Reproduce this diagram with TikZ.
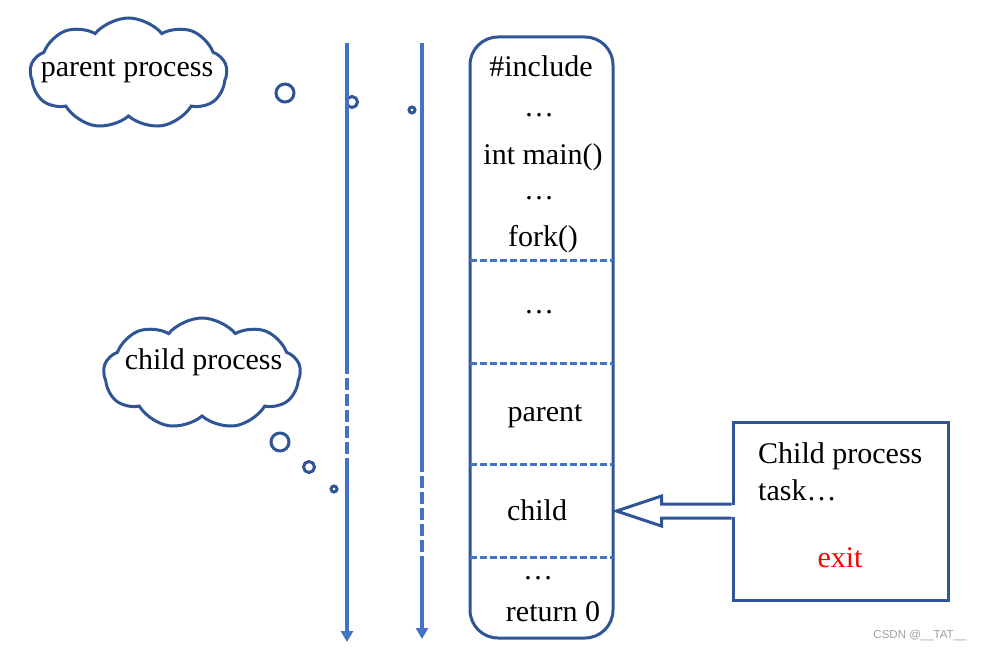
\documentclass[tikz,border=0pt]{standalone}
\usepackage{fontspec}
\setmainfont{Liberation Serif}
\newfontfamily\markfont{Liberation Sans}
\usepackage{xcolor}
\usepackage{tikz}
\usetikzlibrary{arrows.meta}
\usetikzlibrary{shapes.symbols}

\definecolor{lineblue}{HTML}{4472C4}
\definecolor{edgeblue}{HTML}{2F5597}

\begin{document}
\begin{tikzpicture}[x = 1pt, y = -1pt,
    every node/.style = {font = \fontsize{30}{37}\selectfont, inner sep = 0},
    timeline/.style = {lineblue, line width = 4pt},
    forkline/.style = {timeline, dash pattern = on 12pt off 4pt},
    bubble/.style = {edgeblue, line width = 3pt},
    thought/.style = {cloud, cloud puffs = 9, cloud puff arc = 100,
        cloud ignores aspect, draw = edgeblue, line width = 3pt,
        minimum width = 197pt, minimum height = 111pt},
    divider/.style = {lineblue, line width = 3pt, dash pattern = on 7pt off 3pt}]
    \useasboundingbox (0, 0) rectangle (984, 650);

    %% clouds
    \node[thought] (pcloud) at (128.5, 73.5) {};
    \node (ptext) at (127, 71) {parent process};
    \draw[bubble] (285, 93) circle (9pt);
    \draw[bubble] (352, 102) circle (5.5pt);
    \draw[bubble] (412, 110) circle (3pt);

    \node[thought] (ccloud) at (202, 373.5) {};
    \node (ctext) at (203.5, 362.5) {child process};
    \draw[bubble] (280, 442) circle (9pt);
    \draw[bubble] (309, 467) circle (5.5pt);
    \draw[bubble] (334, 489) circle (3pt);

    %% time lines
    \coordinate (ptop) at (347, 43);
    \coordinate (pdash) at (347, 362);
    \coordinate (pback) at (347, 468);
    \coordinate (pend) at (347, 642);
    \draw[timeline] (ptop) -- (pdash);
    \draw[forkline] (pdash) -- (pback);
    \draw[timeline, -{Triangle[width = 12pt, length = 11pt]}] (pback) -- (pend);

    \coordinate (ctop) at (422, 43);
    \coordinate (cdash) at (422, 460);
    \coordinate (cback) at (422, 557);
    \coordinate (cend) at (422, 639);
    \draw[timeline] (ctop) -- (cdash);
    \draw[forkline] (cdash) -- (cback);
    \draw[timeline, -{Triangle[width = 12pt, length = 11pt]}] (cback) -- (cend);

    %% program
    \node[draw = edgeblue, line width = 3pt, rounded corners = 28pt,
        minimum width = 143pt, minimum height = 601pt] (code) at (541.5, 337.5) {};
    \foreach \y in {260, 363, 464, 557}
        \draw[divider] (470, \y) -- (613, \y);

    \node (incl) at (541, 66) {\#include};
    \node (dotsa) at (539, 115) {…};
    \node (main) at (543, 157) {int main()};
    \node (dotsb) at (539, 198) {…};
    \node (fork) at (543, 239) {fork()};
    \node (dotsc) at (539, 312) {…};
    \node (parent) at (545, 416) {parent};
    \node (child) at (537, 510) {child};
    \node (dotsd) at (538, 578) {…};
    \node (ret) at (553, 612) {return 0};

    %% child task
    \node[draw = edgeblue, line width = 3pt, minimum width = 215pt,
        minimum height = 178pt] (task) at (840.5, 511) {};
    \node[anchor = north west, align = left] (tasktext) at (758, 442)
        {Child process\\task…};
    \node[red] (exit) at (840, 558) {exit};

    \fill[white] (task.west) ++(-3, -6) rectangle ++(6, 12);
    \draw[bubble, line join = miter] (task.west) ++(0, -7) -- ++(-70, 0)
        -- ++(0, -8) -- ++(-45, 15) -- ++(45, 15) -- ++(0, -8) -- ++(70, 0);

    \node[font = \fontsize{11.5}{12}\selectfont\markfont, text = gray!75]
        (mark) at (920, 635) {CSDN @\_\_TAT\_\_};
\end{tikzpicture}
\end{document}
